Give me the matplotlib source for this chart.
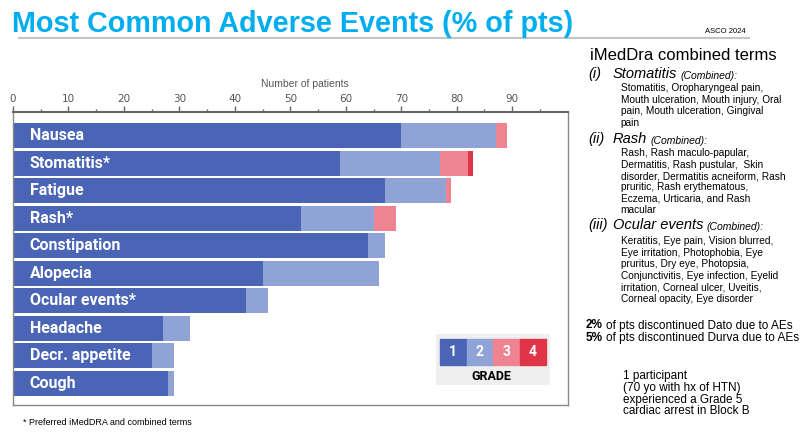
import numpy as np
import matplotlib.pyplot as plt
from matplotlib.patches import Rectangle

# adverse events, counts per grade (number of patients)
events = ['Nausea', 'Stomatitis*', 'Fatigue', 'Rash*', 'Constipation',
          'Alopecia', 'Ocular events*', 'Headache', 'Decr. appetite', 'Cough']
grade1 = [70, 59, 67, 52, 64, 45, 42, 27, 25, 28]
grade2 = [17, 18, 11, 13, 3, 21, 4, 5, 4, 1]
grade3 = [2, 5, 1, 4, 0, 0, 0, 0, 0, 0]
grade4 = [0, 1, 0, 0, 0, 0, 0, 0, 0, 0]
grades = ['1', '2', '3', '4']
colors = ['#4A65B5', '#8FA3D6', '#EE8392', '#E03448']
xticks = [0, 10, 20, 30, 40, 50, 60, 70, 80, 90]

W, H = 800, 432
fig = plt.figure(figsize=(8, 4.32), dpi=100)

def fx(x):
    return x / W

def fy(y):
    return 1 - y / H

bar_font = ['Roboto', 'DejaVu Sans']
txt_font = ['Liberation Sans', 'DejaVu Sans']

# main chart
ax = fig.add_axes([fx(12.9), fy(405), (567.7 - 12.9) / W, (405 - 112) / H])
ypos = np.arange(len(events))
left = np.zeros(len(events))
for vals, c in zip([grade1, grade2, grade3, grade4], colors):
    ax.barh(ypos, vals, left=left, height=0.91, color=c, edgecolor='none')
    left = left + np.array(vals)

for i, name in enumerate(events):
    ax.text(3, i, name, color='white', fontsize=11.5, fontweight='bold',
            family=bar_font, va='center', ha='left')

ax.set_xlim(0, 100)
ax.set_ylim(9.79, -0.865)
ax.set_yticks([])
ax.xaxis.tick_top()
ax.set_xticks(xticks)
ax.set_xticks(np.arange(5, 100, 10), minor=True)
ax.tick_params(axis='x', which='major', length=4, width=1, color='#666666',
               labelsize=7.5, labelcolor='#555555', pad=2)
ax.tick_params(axis='x', which='minor', length=2.5, width=1, color='#666666')
for side in ['left', 'right', 'bottom']:
    ax.spines[side].set_color('#888888')
    ax.spines[side].set_linewidth(1)
ax.spines['top'].set_color('#666666')
ax.spines['top'].set_linewidth(1.5)

fig.text(fx(305), fy(84), 'Number of patients', fontsize=7.5, color='#555555',
         ha='center', va='center', family=txt_font)

# grade legend
lg = fig.add_axes([fx(435.7), fy(385), 114.3 / W, 51 / H])
lg.set_xlim(0, 114.3)
lg.set_ylim(51, 0)
lg.axis('off')
lg.add_patch(Rectangle((0, 0), 114.3, 51, color='#EFEFEF'))
for k, (g, c) in enumerate(zip(grades, colors)):
    lg.add_patch(Rectangle((4.3 + k * 26.5, 5), 26.5, 26, color=c))
    lg.text(4.3 + k * 26.5 + 13.25, 18, g, color='white', fontsize=10,
            fontweight='bold', ha='center', va='center', family=bar_font)
lg.text(56, 42.7, 'GRADE', fontsize=9, fontweight='bold', ha='center',
        va='center', family=bar_font)

# title
fig.text(fx(11.7), fy(31.7), 'Most Common Adverse Events (% of pts)', color='#00AEEF',
         fontsize=20.7, fontweight='bold', ha='left', va='baseline', family=txt_font)
fig.add_artist(plt.Line2D([fx(19.3), fx(749)], [fy(37.5), fy(37.5)],
                          color='#C4C4C4', lw=1.5))
fig.text(fx(705), fy(31.5), 'ASCO 2024', fontsize=5.5, ha='left', va='center',
         family=txt_font)

# right side notes
fig.text(fx(590), fy(55.5), 'iMedDra combined terms', fontsize=12, ha='left',
         va='center', family=txt_font)

sections = [
    ('(i)', 'Stomatitis', 74,
     ['Stomatitis, Oropharyngeal pain,', 'Mouth ulceration, Mouth injury, Oral',
      'pain, Mouth ulceration, Gingival', 'pain'], 88.3),
    ('(ii)', 'Rash', 139,
     ['Rash, Rash maculo-papular,', 'Dermatitis, Rash pustular,  Skin',
      'disorder, Dermatitis acneiform, Rash', 'pruritic, Rash erythematous,',
      'Eczema, Urticaria, and Rash', 'macular'], 153.3),
    ('(iii)', 'Ocular events', 225,
     ['Keratitis, Eye pain, Vision blurred,', 'Eye irritation, Photophobia, Eye',
      'pruritus, Dry eye, Photopsia,', 'Conjunctivitis, Eye infection, Eyelid',
      'irritation, Corneal ulcer, Uveitis,', 'Corneal opacity, Eye disorder'], 241.5),
]
for num, head, yh, lines, y0 in sections:
    fig.text(fx(588), fy(yh), num, fontsize=10.5, style='italic', ha='left',
             va='center', family=txt_font)
    ht = fig.text(fx(613), fy(yh), head, fontsize=10.5, style='italic', ha='left',
                  va='center', family=txt_font)
    ax.annotate('(Combined):', xy=(1, 0), xycoords=ht, xytext=(2.5, 0),
                textcoords='offset points', fontsize=7.5, style='italic',
                ha='left', va='bottom', family=txt_font, annotation_clip=False)
    for j, ln in enumerate(lines):
        fig.text(fx(620.7), fy(y0 + j * 11.4), ln, fontsize=7.3, ha='left',
                 va='center', family=txt_font)

for yy, pct, rest in [(325.5, '2%', 'of pts discontinued Dato due to AEs'),
                      (338, '5%', 'of pts discontinued Durva due to AEs')]:
    pt = fig.text(fx(586), fy(yy), pct, fontsize=8.5, fontweight='bold', ha='left',
                  va='center', family=txt_font)
    ax.annotate(rest, xy=(1, 0.5), xycoords=pt, xytext=(2, 0),
                textcoords='offset points', fontsize=8.5, ha='left', va='center',
                family=txt_font, annotation_clip=False)

note = ['1 participant', '(70 yo with hx of HTN)', 'experienced a Grade 5',
        'cardiac arrest in Block B']
for j, ln in enumerate(note):
    fig.text(fx(623), fy(375.7 + j * 11.9), ln, fontsize=8.5, ha='left',
             va='center', family=txt_font)

fig.text(fx(23), fy(422.3), '* Preferred iMedDRA and combined terms', fontsize=6.5,
         ha='left', va='center', family=txt_font)

fig.savefig('out.png', dpi=100)
